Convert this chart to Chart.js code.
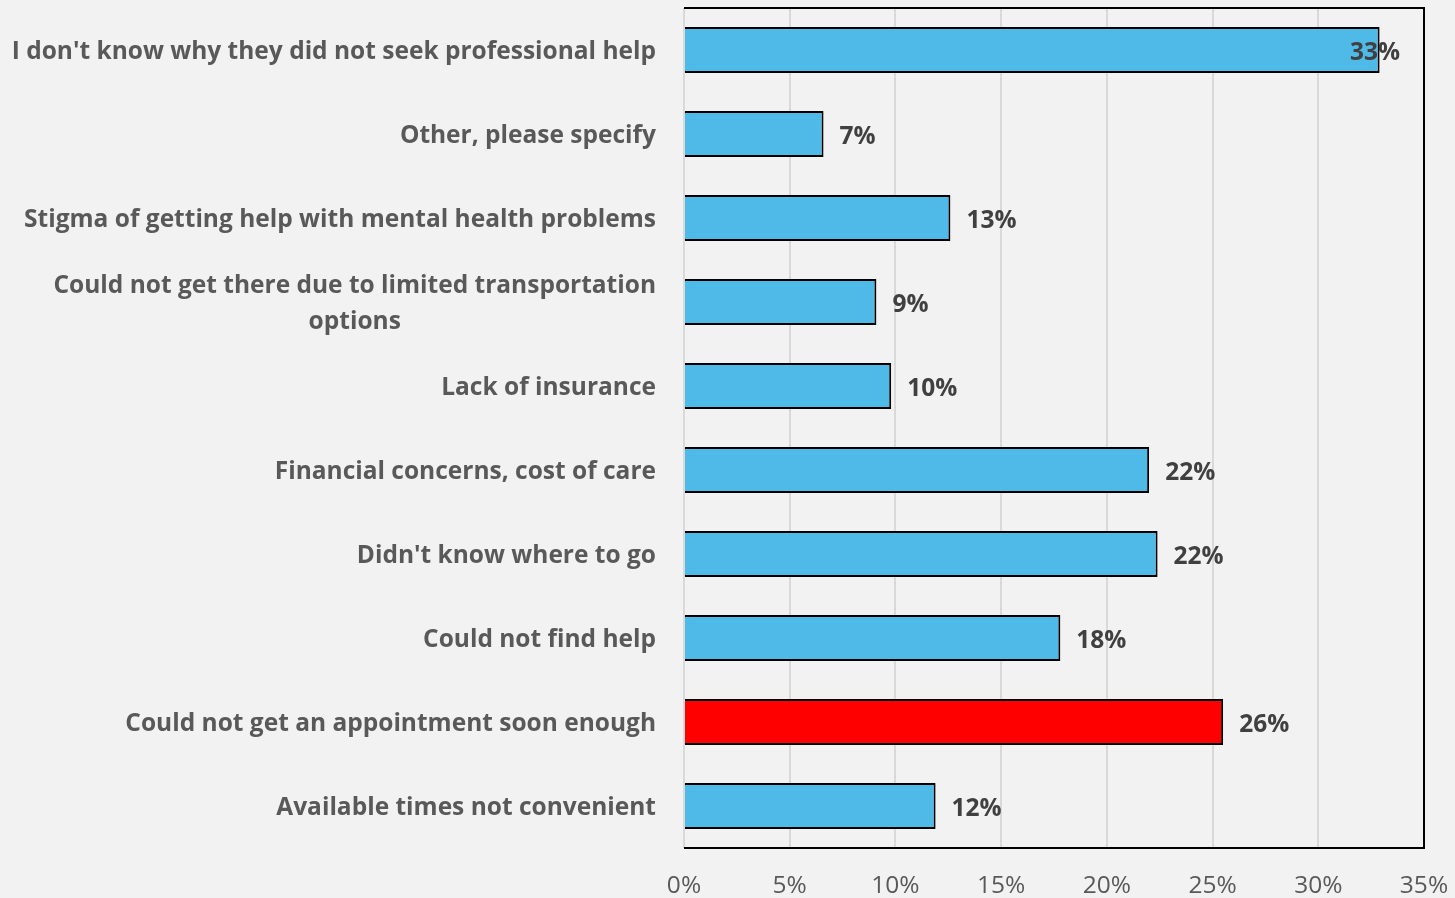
<!DOCTYPE html>
<html>
<head>
<meta charset="utf-8">
<script src="https://cdn.jsdelivr.net/npm/chart.js@4.4.0/dist/chart.umd.min.js"></script>
<style>
  html, body { margin: 0; padding: 0; background: #f2f2f2; }
  #chartCanvas { display: block; }
</style>
</head>
<body>
<canvas id="chartCanvas" width="1455" height="898"></canvas>
<script>
// values, top bar first
const categories = [
    "I don't know why they did not seek professional help",
    "Other, please specify",
    "Stigma of getting help with mental health problems",
    ["Could not get there due to limited transportation", "options"],
    "Lack of insurance",
    "Financial concerns, cost of care",
    "Didn't know where to go",
    "Could not find help",
    "Could not get an appointment soon enough",
    "Available times not convenient"
];
const percentValues = [32.9, 6.6, 12.6, 9.1, 9.8, 22.0, 22.4, 17.8, 25.5, 11.9];
const highlighted = [false, false, false, false, false, false, false, false, true, false];
const xTicks = [0, 5, 10, 15, 20, 25, 30, 35];

const BLUE = '#4fb9e7';
const RED = '#ff0000';
const FONT = '"Open Sans", Lato, sans-serif';
const SIZE = 24.5;

const frame = {
    id: 'frame',
    afterDatasetsDraw(chart) {
        const { ctx, chartArea: a } = chart;
        ctx.save();
        ctx.strokeStyle = '#000';
        ctx.lineWidth = 2;
        ctx.beginPath();
        ctx.moveTo(a.left, a.top);
        ctx.lineTo(a.right, a.top);
        ctx.lineTo(a.right, a.bottom);
        ctx.lineTo(a.left, a.bottom);
        ctx.stroke();

        // value labels, kept inside the plot like Excel does
        ctx.font = 'bold ' + SIZE + 'px ' + FONT;
        ctx.fillStyle = '#404040';
        ctx.textBaseline = 'middle';
        ctx.textAlign = 'left';
        chart.getDatasetMeta(0).data.forEach((bar, i) => {
            const txt = Math.round(percentValues[i]) + '%';
            const w = ctx.measureText(txt).width;
            let x = bar.x + 16;
            if (x + w > a.right - 24) x = a.right - 24 - w;
            ctx.fillText(txt, x, bar.y + 3);
        });
        ctx.restore();
    },
    afterDraw(chart) {
        const { ctx, chartArea: a } = chart;
        const yScale = chart.scales.y;
        const right = a.left - 28;
        ctx.save();
        ctx.font = 'bold ' + SIZE + 'px ' + FONT;
        ctx.fillStyle = '#595959';
        ctx.textBaseline = 'middle';
        categories.forEach((lab, i) => {
            const y = yScale.getPixelForValue(i) + 2;
            if (Array.isArray(lab)) {
                const maxW = Math.max(...lab.map(l => ctx.measureText(l).width));
                const cx = right - maxW / 2;
                const lh = 36;
                const y0 = y - (lab.length - 1) * lh / 2;
                ctx.textAlign = 'center';
                lab.forEach((l, j) => ctx.fillText(l, cx, y0 + j * lh));
            } else {
                ctx.textAlign = 'right';
                ctx.fillText(lab, right, y);
            }
        });
        ctx.restore();
    }
};

new Chart(document.getElementById('chartCanvas'), {
    type: 'bar',
    data: {
        labels: categories.map(c => Array.isArray(c) ? c.join(' ') : c),
        datasets: [{
            data: percentValues,
            backgroundColor: highlighted.map(h => h ? RED : BLUE),
            borderColor: '#000',
            borderWidth: 2,
            barPercentage: 0.55,
            categoryPercentage: 1
        }]
    },
    options: {
        indexAxis: 'y',
        responsive: false,
        animation: false,
        layout: { padding: { left: 0, top: 8, right: 0, bottom: 0 } },
        plugins: { legend: { display: false }, tooltip: { enabled: false } },
        scales: {
            x: {
                min: xTicks[0],
                max: xTicks[xTicks.length - 1],
                afterBuildTicks: s => { s.ticks = xTicks.map(v => ({ value: v })); },
                afterFit: s => { s.height = 50; s.paddingRight = 31; s.paddingLeft = 0; },
                grid: { color: '#d9d9d9', lineWidth: 2, drawTicks: false },
                border: { display: false },
                ticks: {
                    padding: 23,
                    color: '#595959',
                    font: { family: FONT, size: SIZE },
                    callback: v => v + '%'
                }
            },
            y: {
                afterFit: s => { s.width = 684; },
                grid: { display: false },
                border: { display: false },
                ticks: { display: false }
            }
        }
    },
    plugins: [frame]
});
</script>
</body>
</html>
